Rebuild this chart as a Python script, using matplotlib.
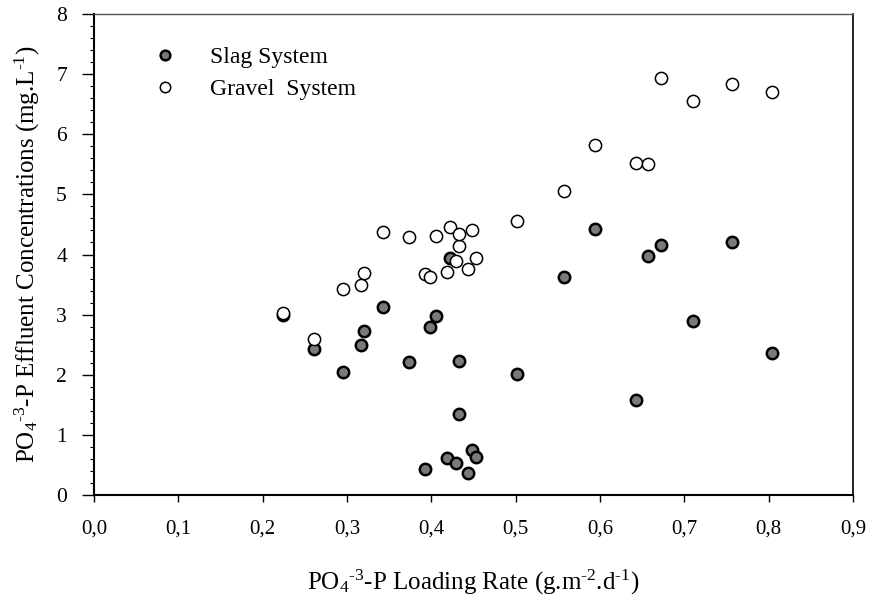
import matplotlib

matplotlib.use("Agg")
import matplotlib.pyplot as plt
from matplotlib.ticker import FixedLocator, MultipleLocator

plt.rcParams["font.family"] = ["Liberation Serif", "DejaVu Serif"]
plt.rcParams["mathtext.fontset"] = "custom"
plt.rcParams["mathtext.rm"] = "Liberation Serif"
plt.rcParams["mathtext.it"] = "Liberation Serif:italic"
plt.rcParams["mathtext.bf"] = "Liberation Serif:bold"

# PO4-P loading rate (g.m-2.d-1), shared by both systems
loading_rate = [0.224, 0.261, 0.295, 0.317, 0.320, 0.343, 0.373, 0.392, 0.398,
                0.406, 0.418, 0.422, 0.429, 0.433, 0.433, 0.444, 0.448, 0.453,
                0.501, 0.557, 0.594, 0.643, 0.657, 0.672, 0.710, 0.757, 0.804]

# effluent PO4-P concentration (mg.L-1)
slag_effluent = [3.00, 2.42, 2.05, 2.49, 2.73, 3.12, 2.21, 0.43, 2.80,
                 2.98, 0.62, 3.95, 0.54, 2.23, 1.34, 0.36, 0.75, 0.64,
                 2.02, 3.62, 4.42, 1.58, 3.97, 4.15, 2.90, 4.21, 2.37]
gravel_effluent = [3.03, 2.59, 3.43, 3.49, 3.69, 4.38, 4.29, 3.68, 3.63,
                   4.31, 3.71, 4.46, 3.90, 4.14, 4.34, 3.76, 4.40, 3.94,
                   4.56, 5.05, 5.82, 5.53, 5.50, 6.94, 6.56, 6.83, 6.71]

x_ticks = [0.0, 0.1, 0.2, 0.3, 0.4, 0.5, 0.6, 0.7, 0.8, 0.9]
x_tick_labels = ["0,0", "0,1", "0,2", "0,3", "0,4", "0,5", "0,6", "0,7", "0,8", "0,9"]
y_ticks = [0, 1, 2, 3, 4, 5, 6, 7, 8]


def main() -> None:
    fig = plt.figure(figsize=(8.72, 6.04), dpi=100)
    ax = fig.add_axes([94 / 872, 1 - 495 / 604, (853 - 94) / 872, (495 - 14) / 604])

    ax.plot(loading_rate, slag_effluent, linestyle="none", marker="o", markersize=8.2,
            markerfacecolor="#7a7a7a", markeredgecolor="black", markeredgewidth=1.8,
            label="Slag System", zorder=3)
    ax.plot(loading_rate, gravel_effluent, linestyle="none", marker="o", markersize=8.8,
            markerfacecolor="white", markeredgecolor="black", markeredgewidth=1.1,
            label="Gravel  System", zorder=4)

    ax.set_xlim(0.0, 0.9)
    ax.set_ylim(0, 8)
    ax.xaxis.set_major_locator(FixedLocator(x_ticks))
    ax.set_xticklabels(x_tick_labels)
    ax.yaxis.set_major_locator(FixedLocator(y_ticks))
    ax.yaxis.set_minor_locator(MultipleLocator(0.2))

    ax.tick_params(axis="x", which="major", direction="out", length=5, width=1.0,
                   pad=13, labelsize=15)
    ax.tick_params(axis="y", which="major", direction="out", length=8.5, width=1.0,
                   pad=11, labelsize=15.5)
    ax.tick_params(axis="y", which="minor", direction="out", length=3, width=0.8)

    for side in ("left", "bottom"):
        ax.spines[side].set_linewidth(1.5)
    ax.spines["right"].set_linewidth(1.2)
    ax.spines["top"].set_linewidth(1.0)
    ax.spines["top"].set_color("#555555")

    ax.set_xlabel("PO$_4$$^{\\text{-3}}$-P Loading Rate (g.m$^{\\text{-2}}$.d$^{\\text{-1}}$)",
                  fontsize=18, labelpad=21)
    ax.set_ylabel("PO$_4$$^{\\text{-3}}$-P Effluent Concentrations (mg.L$^{\\text{-1}}$)",
                  fontsize=18, labelpad=10)

    ax.legend(loc="upper left", bbox_to_anchor=(0.05, 0.977), frameon=False,
              fontsize=17, handletextpad=1.4, labelspacing=0.45, handlelength=1.0,
              markerscale=0.85)

    fig.savefig("out.png", dpi=100)
    plt.close(fig)


if __name__ == "__main__":
    main()
